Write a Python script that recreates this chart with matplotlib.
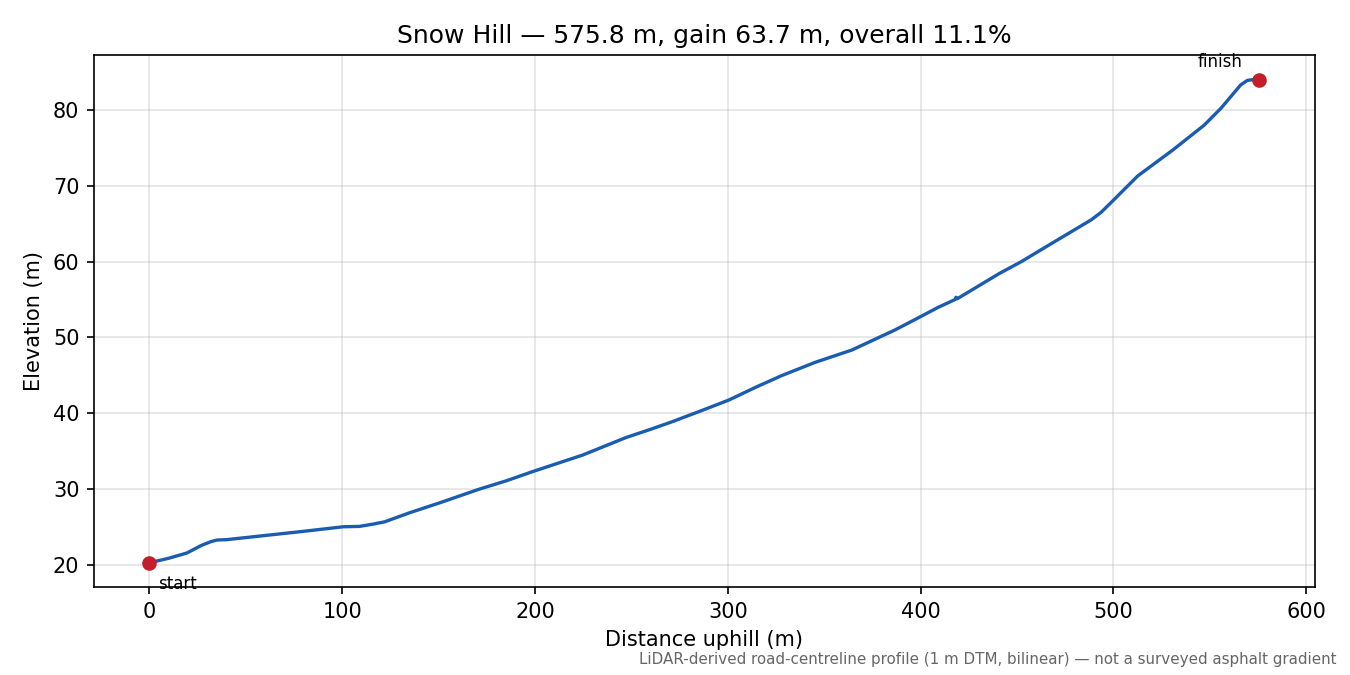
import matplotlib
matplotlib.use("Agg")
import matplotlib.pyplot as plt

# distance uphill (m) and elevation (m)
distance = [0, 5, 10, 19.5, 27, 32, 35, 40, 60, 80, 100.5, 109, 116, 122,
            135, 150.5, 171, 185, 199.7, 224.7, 247.1, 260, 271.2, 286.8,
            300.6, 315, 328.2, 345.4, 364.4, 386.8, 398.9, 409.2, 417.9,
            418.4, 419.0, 441.1, 452.3, 469.6, 488.5, 493.7, 498.9, 512.7,
            530.8, 547.2, 555.8, 566.1, 569.6, 574.4, 575.8]
elevation = [20.3, 20.6, 20.9, 21.6, 22.6, 23.1, 23.3, 23.35, 23.9, 24.45,
             25.05, 25.1, 25.4, 25.7, 26.9, 28.2, 30.0, 31.1, 32.4, 34.5,
             36.8, 37.9, 38.9, 40.4, 41.76, 43.5, 45.0, 46.73, 48.35, 51.0,
             52.6, 53.98, 55.0, 55.3, 55.1, 58.47, 60.0, 62.64, 65.5, 66.5,
             67.8, 71.3, 74.7, 78.0, 80.2, 83.3, 83.9, 84.05, 84.0]

title = "Snow Hill \u2014 575.8 m, gain 63.7 m, overall 11.1%"
footnote = ("LiDAR-derived road-centreline profile (1 m DTM, bilinear) "
            "\u2014 not a surveyed asphalt gradient")

fig, ax = plt.subplots(figsize=(9, 4.5), dpi=150)
fig.subplots_adjust(left=0.0696, right=0.974, top=0.9185, bottom=0.1304)

ax.plot(distance, elevation, color="#1a5cb0", lw=1.6, zorder=3)
ax.plot([distance[0], distance[-1]], [elevation[0], elevation[-1]], "o",
        color="#c41e2a", ms=6, zorder=4)
ax.annotate("start", (distance[0], elevation[0]), xytext=(4, -6),
            textcoords="offset points", ha="left", va="top", fontsize=8)
ax.annotate("finish", (distance[-1], elevation[-1]), xytext=(-8, 4),
            textcoords="offset points", ha="right", va="bottom", fontsize=8)

ax.grid(True, color="#b0b0b0", alpha=0.35, lw=0.8)
ax.set_axisbelow(True)
ax.set_xlabel("Distance uphill (m)")
ax.set_ylabel("Elevation (m)")
ax.set_title(title, fontsize=12)

fig.text(0.99, 0.012, footnote, ha="right", va="bottom", fontsize=7.25,
         color="#666666")

fig.savefig("out.png", dpi=150)
